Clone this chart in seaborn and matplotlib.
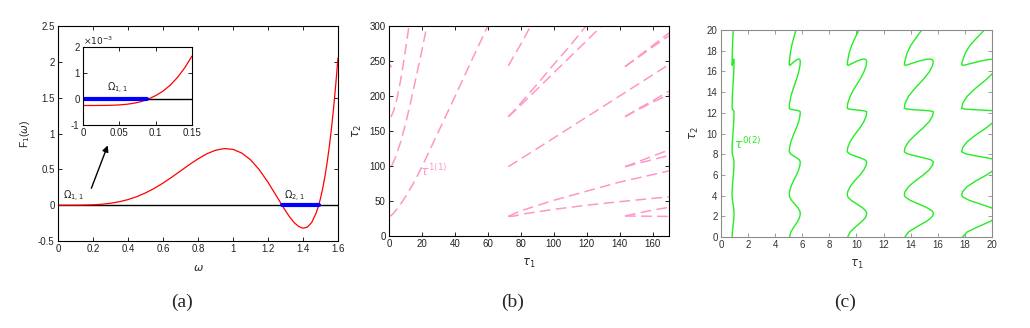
import matplotlib
matplotlib.use('Agg')
import matplotlib.pyplot as plt
from matplotlib.ticker import FuncFormatter
import seaborn as sns

# ---------------- (a) F1(omega) ----------------
omega = [0, 0.05, 0.1, 0.15, 0.2, 0.25, 0.3, 0.35, 0.4, 0.45, 0.5, 0.55, 0.6, 0.65, 0.7,
         0.75, 0.8, 0.85, 0.9, 0.95, 1.0, 1.05, 1.1, 1.15, 1.2, 1.25, 1.3, 1.325, 1.35,
         1.375, 1.4, 1.425, 1.45, 1.475, 1.4875, 1.5, 1.5125, 1.525, 1.5375, 1.55,
         1.5625, 1.575, 1.5875, 1.6]
F1 = [0.0, 0.0, 0.0001, 0.0016, 0.0053, 0.013, 0.0265, 0.0475, 0.078, 0.119, 0.171,
      0.234, 0.308, 0.390, 0.477, 0.564, 0.646, 0.716, 0.766, 0.790, 0.779, 0.728, 0.634,
      0.496, 0.321, 0.122, -0.078, -0.168, -0.243, -0.297, -0.321, -0.307, -0.241,
      -0.113, -0.021, 0.093, 0.230, 0.392, 0.583, 0.805, 1.059, 1.350, 1.681, 2.053]
omega_zoom = [0, 0.01, 0.02, 0.03, 0.04, 0.05, 0.06, 0.07, 0.08, 0.09, 0.1, 0.11, 0.12,
              0.13, 0.14, 0.15]
F1_zoom = [-0.25, -0.25, -0.249, -0.247, -0.241, -0.227, -0.203, -0.163, -0.102, 0.0,
           0.13, 0.30, 0.53, 0.83, 1.2, 1.65]   # x 1e-3
omega_band_21 = [1.28, 1.49]
omega_band_11 = [0, 0.088]

# ---------------- (b) tau1-tau2 curves ----------------
line_b1 = [(0.6, 28), (3, 33), (6, 42), (10, 56), (15, 76), (20, 99), (30, 149), (40, 199), (50, 250), (60, 300)]
line_b2 = [(1.6, 100), (4, 113), (7, 134), (10, 160), (13, 190), (16, 222), (19.5, 260), (23, 300)]
line_b3 = [(1.2, 170), (3, 180), (5, 198), (7, 222), (9.5, 258), (12.1, 300)]
line_b4 = [(0, 246), (1.6, 241)]
line_b5 = [(72.4, 243), (76, 258), (80, 274), (86, 300)]
line_b6 = [(72.4, 170.5), (76, 179), (80, 190), (90, 217), (100, 245), (110, 272), (119.6, 300)]
line_b7 = [(72.4, 170.5), (76, 178), (80, 187), (90, 210), (100, 233), (110, 256), (120, 279), (129.1, 300)]
line_b8 = [(72.4, 99), (90, 125), (110, 155), (130, 185), (150, 215), (170, 245)]
line_b9 = [(72.4, 28), (80, 36), (100, 51), (120, 64), (140, 77), (170, 93)]
line_b10 = [(72.4, 28), (76, 28.5), (80, 31), (100, 38), (120, 44), (140, 49), (170, 56)]
line_b11 = [(143.3, 242), (150, 254), (160, 272), (170, 290)]
line_b12 = [(143.3, 242), (150, 253), (160, 270), (170, 286)]
line_b13 = [(143.3, 170.5), (150, 180), (160, 193), (170, 207)]
line_b14 = [(143.3, 170.5), (150, 179), (160, 191), (170, 202)]
line_b15 = [(143.3, 99), (150, 105), (160, 114), (170, 123)]
line_b16 = [(143.3, 99), (150, 103), (160, 109), (170, 115)]
line_b17 = [(143.3, 28.6), (150, 32), (160, 37), (170, 41)]
line_b18 = [(143.3, 28.6), (150, 28.4), (160, 28.2), (170, 28)]

# ---------------- (c) tau1-tau2 curves ----------------
c_tau2 = [0, 0.5, 1.0, 1.5, 1.8, 2.05, 2.29,
          2.50, 2.82, 3.18, 3.53, 3.85, 4.06,
          4.38, 4.87, 5.35, 5.99, 6.48, 6.96, 7.28,
          7.47, 7.66, 7.86, 8.05, 8.24,
          8.63, 9.21, 9.78, 10.56, 11.14, 11.71, 12.1,
          12.17, 12.23, 12.27, 12.31, 12.37, 12.43,
          12.9, 13.6, 14.3, 15.23, 15.93, 16.55, 17.0,
          17.15, 17.2, 17.15, 17.0, 16.8, 16.65, 16.58, 16.65,
          16.8, 17.1, 17.8, 18.5, 19.2, 20.0]
c1_tau1 = [0.823, 0.841, 0.882, 0.925, 0.946, 0.957, 0.96,
           0.955, 0.931, 0.89, 0.849, 0.825, 0.82,
           0.823, 0.84, 0.868, 0.912, 0.94, 0.957, 0.96,
           0.947, 0.912, 0.868, 0.833, 0.82,
           0.823, 0.84, 0.868, 0.912, 0.94, 0.957, 0.96,
           0.95, 0.921, 0.89, 0.859, 0.83, 0.82,
           0.823, 0.84, 0.868, 0.912, 0.94, 0.956, 0.96,
           0.954, 0.942, 0.921, 0.89, 0.859, 0.837, 0.826, 0.82,
           0.821, 0.824, 0.834, 0.851, 0.875, 0.904]
c2_tau1 = [5.06, 5.16, 5.40, 5.65, 5.77, 5.83, 5.85,
           5.82, 5.68, 5.45, 5.21, 5.07, 5.04,
           5.06, 5.16, 5.32, 5.57, 5.73, 5.83, 5.85,
           5.77, 5.57, 5.32, 5.12, 5.04,
           5.06, 5.16, 5.32, 5.57, 5.73, 5.83, 5.85,
           5.79, 5.62, 5.45, 5.27, 5.10, 5.04,
           5.06, 5.16, 5.32, 5.57, 5.73, 5.83, 5.85,
           5.82, 5.75, 5.62, 5.45, 5.27, 5.14, 5.07, 5.04,
           5.04, 5.06, 5.12, 5.22, 5.36, 5.53]
c3_tau1 = [9.35, 9.54, 9.95, 10.39, 10.61, 10.72, 10.75,
           10.70, 10.45, 10.04, 9.62, 9.37, 9.32,
           9.35, 9.53, 9.81, 10.26, 10.54, 10.72, 10.75,
           10.61, 10.26, 9.81, 9.46, 9.32,
           9.35, 9.53, 9.81, 10.26, 10.54, 10.72, 10.75,
           10.65, 10.35, 10.04, 9.72, 9.42, 9.32,
           9.35, 9.53, 9.81, 10.26, 10.54, 10.71, 10.75,
           10.69, 10.56, 10.35, 10.04, 9.72, 9.49, 9.38, 9.32,
           9.33, 9.36, 9.46, 9.64, 9.88, 10.18]
c4_tau1 = [13.57, 13.85, 14.47, 15.14, 15.46, 15.63, 15.67,
           15.60, 15.22, 14.60, 13.98, 13.61, 13.53,
           13.58, 13.84, 14.27, 14.93, 15.36, 15.62, 15.67,
           15.47, 14.93, 14.27, 13.73, 13.53,
           13.58, 13.84, 14.27, 14.93, 15.36, 15.62, 15.67,
           15.52, 15.07, 14.60, 14.13, 13.68, 13.53,
           13.58, 13.84, 14.27, 14.93, 15.36, 15.61, 15.67,
           15.58, 15.39, 15.07, 14.60, 14.13, 13.79, 13.62, 13.53,
           13.54, 13.59, 13.74, 14.00, 14.37, 14.81]
c5_tau1 = [17.82, 18.18, 18.99, 19.85, 20.27, 20.49, 20.55,
           20.45, 19.96, 19.16, 18.35, 17.86, 17.76,
           17.83, 18.17, 18.72, 19.59, 20.14, 20.48, 20.55,
           20.29, 19.59, 18.72, 18.03, 17.76,
           17.83, 18.17, 18.72, 19.59, 20.14, 20.48, 20.55,
           20.36, 19.77, 19.16, 18.54, 17.96, 17.76,
           17.83, 18.17, 18.72, 19.59, 20.14, 20.47, 20.55,
           20.44, 20.19, 19.77, 19.16, 18.54, 18.10, 17.87, 17.76,
           17.77, 17.84, 18.04, 18.37, 18.85, 19.43]

a_xticks = [0, 0.2, 0.4, 0.6, 0.8, 1, 1.2, 1.4, 1.6]
a_yticks = [-0.5, 0, 0.5, 1, 1.5, 2, 2.5]
b_xticks = [0, 20, 40, 60, 80, 100, 120, 140, 160]
b_yticks = [0, 50, 100, 150, 200, 250, 300]
c_ticks = [0, 2, 4, 6, 8, 10, 12, 14, 16, 18, 20]

sns.set_style('ticks')
plt.rcParams['font.family'] = ['Liberation Sans', 'DejaVu Sans']
plt.rcParams['axes.unicode_minus'] = False
plt.rcParams['axes.linewidth'] = 0.8

fmt = FuncFormatter(lambda v, p: '%g' % v)
red = '#ff0000'
pink = '#ff96c8'
green = '#22ee22'

fig = plt.figure(figsize=(10.3, 3.28), dpi=100)
ax_a = fig.add_axes([0.0563, 0.2652, 0.2718, 0.6555])
ax_in = fig.add_axes([0.0806, 0.6189, 0.1058, 0.2378])
ax_b = fig.add_axes([0.3777, 0.2805, 0.2718, 0.6402])
ax_c = fig.add_axes([0.7, 0.2774, 0.2631, 0.6311])


def style_axes(ax, edge='k', lab='#222222'):
    ax.tick_params(direction='in', length=3, width=0.6, labelsize=7, top=True, right=True,
                   color=edge, labelcolor=lab, pad=2.5)
    for s in ax.spines.values():
        s.set_color(edge)
        s.set_linewidth(0.8)
    ax.xaxis.set_major_formatter(fmt)
    ax.yaxis.set_major_formatter(fmt)


# ---- panel (a)
ax_a.axhline(0, color='k', lw=1)
sns.lineplot(x=omega, y=F1, ax=ax_a, color=red, lw=0.9, sort=False, estimator=None)
sns.lineplot(x=omega_band_21, y=[0, 0], ax=ax_a, color='blue', lw=3, estimator=None)
ax_a.set_xlim(0, 1.6)
ax_a.set_ylim(-0.5, 2.5)
ax_a.set_xticks(a_xticks)
ax_a.set_yticks(a_yticks)
style_axes(ax_a)
ax_a.set_xlabel(r'$\omega$', fontsize=8, labelpad=6)
ax_a.set_ylabel(r'F$_1$($\omega$)', fontsize=7.5, labelpad=4)
ax_a.text(0.03, 0.09, r'$\Omega_{1,1}$', fontsize=7, color='#222222')
ax_a.text(1.29, 0.09, r'$\Omega_{2,1}$', fontsize=7, color='#222222')
ax_a.annotate('', xy=(0.29, 0.87), xytext=(0.185, 0.2),
              arrowprops=dict(arrowstyle='-|>', color='k', lw=1, mutation_scale=9))

# inset
ax_in.axhline(0, color='k', lw=1)
sns.lineplot(x=omega_zoom, y=F1_zoom, ax=ax_in, color=red, lw=0.9, sort=False, estimator=None)
sns.lineplot(x=omega_band_11, y=[0, 0], ax=ax_in, color='blue', lw=3, estimator=None)
ax_in.set_xlim(0, 0.15)
ax_in.set_ylim(-1, 2)
ax_in.set_xticks([0, 0.05, 0.1, 0.15])
ax_in.set_yticks([-1, 0, 1, 2])
style_axes(ax_in)
ax_in.set_xlabel('')
ax_in.set_ylabel('')
ax_in.text(0.0, 1.02, r'$\times10^{-3}$', transform=ax_in.transAxes, fontsize=6.5,
           color='#222222')
ax_in.text(0.033, 0.3, r'$\Omega_{1,1}$', fontsize=7, color='#222222')

# ---- panel (b)
b_lines = [line_b1, line_b2, line_b3, line_b4, line_b5, line_b6, line_b7, line_b8, line_b9,
           line_b10, line_b11, line_b12, line_b13, line_b14, line_b15, line_b16, line_b17,
           line_b18]
for ln in b_lines:
    xs = [p[0] for p in ln]
    ys = [p[1] for p in ln]
    sns.lineplot(x=xs, y=ys, ax=ax_b, color=pink, lw=1.1, sort=False, estimator=None,
                 linestyle=(0, (7, 3.5)))
ax_b.set_xlim(0, 170)
ax_b.set_ylim(0, 300)
ax_b.set_xticks(b_xticks)
ax_b.set_yticks(b_yticks)
style_axes(ax_b)
ax_b.set_xlabel(r'$\tau_1$', fontsize=8.5, labelpad=5)
ax_b.set_ylabel(r'$\tau_2$', fontsize=8.5, labelpad=4)
ax_b.text(19, 86, r'$\tau^{1(1)}$', fontsize=9, color=pink)

# ---- panel (c)
for tau1 in [c1_tau1, c2_tau1, c3_tau1, c4_tau1, c5_tau1]:
    sns.lineplot(x=tau1, y=c_tau2, ax=ax_c, color=green, lw=1, sort=False, estimator=None,
                 solid_joinstyle='round')
ax_c.set_xlim(0, 20)
ax_c.set_ylim(0, 20)
ax_c.set_xticks(c_ticks)
ax_c.set_yticks(c_ticks)
style_axes(ax_c, edge='#8c8c8c', lab='#333333')
ax_c.set_xlabel(r'$\tau_1$', fontsize=8.5, labelpad=5, color='#333333')
ax_c.set_ylabel(r'$\tau_2$', fontsize=8.5, labelpad=4, color='#333333')
ax_c.text(0.95, 8.5, r'$\tau^{0(2)}$', fontsize=9, color=green)

# captions
for xc, cap in [(0.1767, '(a)'), (0.498, '(b)'), (0.82, '(c)')]:
    fig.text(xc, 0.079, cap, ha='center', va='center', fontsize=14,
             family=['Liberation Serif', 'DejaVu Serif'])

fig.savefig('out.png', dpi=100)
